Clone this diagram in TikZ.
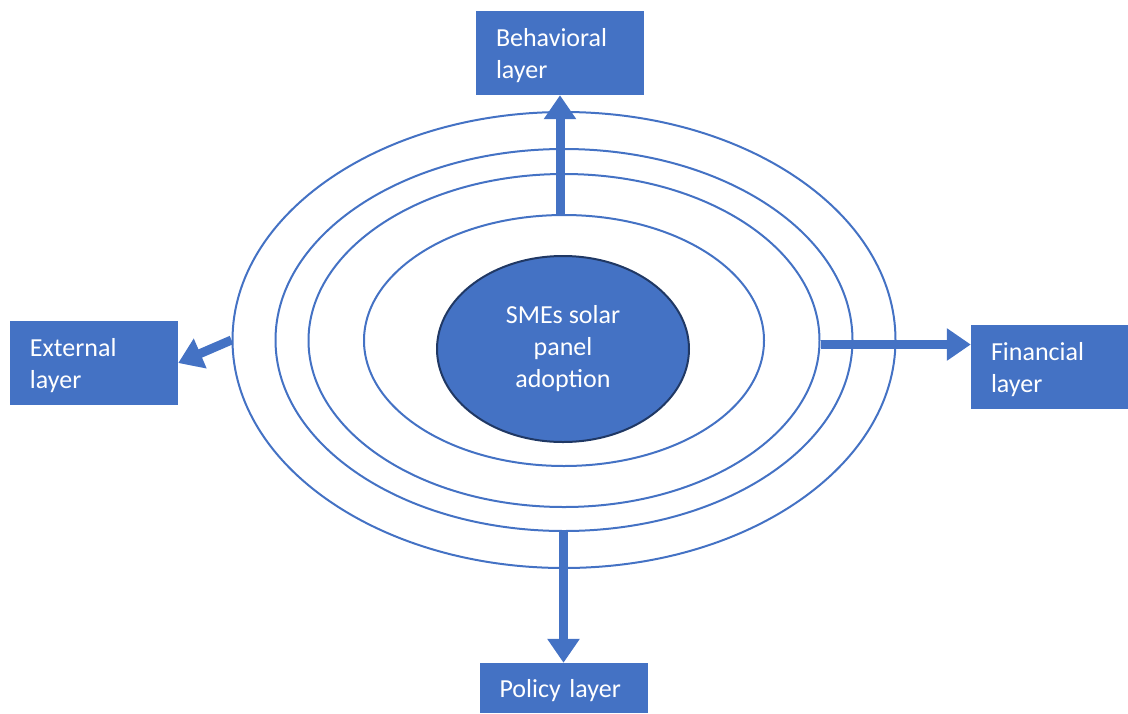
\documentclass[tikz,border=0pt]{standalone}
\usepackage{fontspec}
\setmainfont{Carlito}
\usetikzlibrary{shapes.geometric,arrows.meta}
\definecolor{officeblue}{HTML}{4472C4}
\definecolor{darkblue}{HTML}{203864}
\tikzset{
  layerbox/.style={fill=officeblue,text=white,minimum width=168pt,minimum height=84pt,
    text width=128pt,inner xsep=20pt,inner ysep=0pt,align=left,text depth=32pt},
  ring/.style={ellipse,draw=officeblue,line width=2pt,inner sep=0pt},
  flowarrow/.style={officeblue,line width=9pt,-{Triangle[length=24pt,width=31pt]}}
}
\begin{document}
\begin{tikzpicture}[x=1pt,y=-1pt,font=\fontsize{26}{32}\selectfont]
\useasboundingbox (0,0) rectangle (1128,713);
% layers round the core
\node[ring,minimum width=663pt,minimum height=456pt] (outer) at (564,340) {};
\node[ring,minimum width=577pt,minimum height=382pt] (ring2) at (564,340) {};
\node[ring,minimum width=511pt,minimum height=333pt] (ring3) at (564,340.5) {};
\node[ring,minimum width=400pt,minimum height=251pt] (inner) at (564,340.5) {};
\node[ellipse,fill=officeblue,draw=darkblue,line width=2pt,text=white,align=center,
  minimum width=252pt,minimum height=186pt,inner sep=0pt] (adoption) at (563,349)
  {SMEs solar\\panel\\adoption};
% layer boxes
\node[layerbox] (behavioral) at (560,53) {Behavioral\\layer};
\node[layerbox] (external) at (94,363) {External\\layer};
\node[layerbox] (financial) at (1055,367) {Financial\\layer};
\node[layerbox,minimum height=50pt,text depth=0pt] (policy) at (563.5,688) {Policy layer};
% arrows
\draw[flowarrow] (behavioral.south |- inner.north) -- (behavioral.south);
\coordinate (finstart) at ([yshift=-4pt]ring3.east);
\draw[flowarrow] (finstart) -- (finstart -| financial.west);
\draw[flowarrow] (policy.north |- ring2.south) -- (policy.north);
\draw[flowarrow] (outer.west) -- (external.east);
\end{tikzpicture}
\end{document}
